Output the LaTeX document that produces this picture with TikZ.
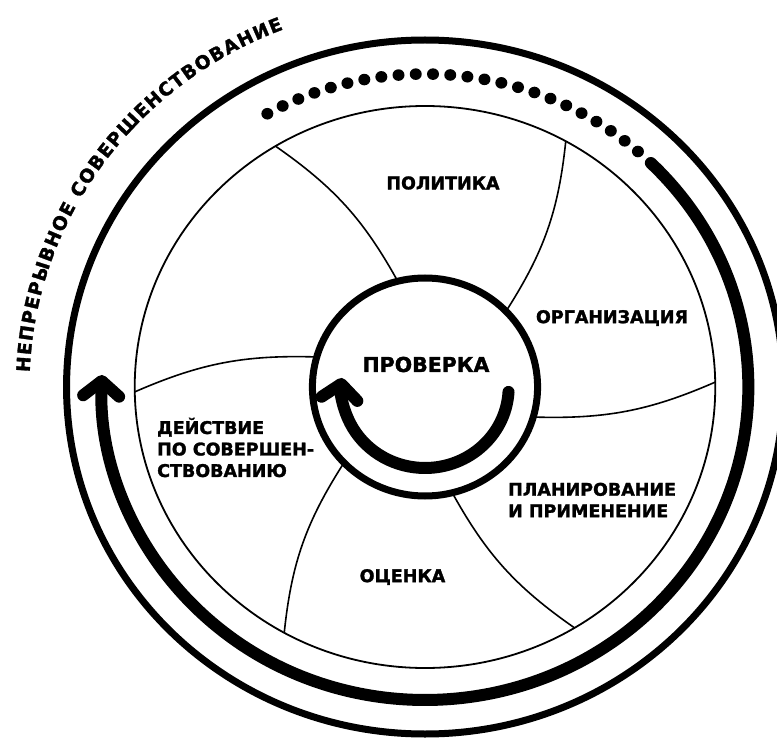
\documentclass[tikz,border=0pt]{standalone}
\usepackage{fontspec}
\setmainfont{DejaVu Sans}[BoldFeatures={FakeBold=1.6}]
\usepackage{tikz}
\usetikzlibrary{arrows.meta, decorations.text, positioning}

\begin{document}
\begin{tikzpicture}[x=1pt, y=1pt,
  ring/.style={line width=7pt},
  midring/.style={line width=1.8pt},
  spoke/.style={line width=1.6pt},
  flow/.style={line width=12pt, line cap=round, -{Straight Barb[length=15pt, width=36pt, round]}},
  lbl/.style={font=\bfseries\fontsize{17.5}{21.5}\selectfont, align=left, inner sep=0pt},
  ]
  \clip (-425,-350) rectangle (352,387);
  \fill[white] (-425,-350) rectangle (352,387);
  \begin{scope}[xscale=1.033]
    \draw[ring] (0,0) circle[radius=347];
    \draw[midring] (0,0) circle[radius=281];
    \draw[ring] (0,0) circle[radius=109];
    \foreach \a [count=\i] in {104,44,-16,-76,-136,164} {
      \coordinate (in\i) at (\a:109);
      \coordinate (out\i) at (\a+17:281);
      \draw[spoke] (out\i) to[bend left=13] (in\i);
    }
    \foreach \k in {0,...,23}
      \fill (48.8+\k*3.06:313) circle[radius=5.8];
    \coordinate (bigstart) at (45.7:313);
    \draw[flow] (bigstart) arc[start angle=45.7, end angle=-182.2, radius=313];
    \coordinate (smallstart) at (-3.5:81);
    \draw[flow] (smallstart) arc[start angle=-3.5, end angle=-186.4, radius=81];
  \end{scope}

  \node[lbl] (policy) at (18,204) {ПОЛИТИКА};
  \node[lbl] (organize) at (187,69) {ОРГАНИЗАЦИЯ};
  \node[lbl, font=\bfseries\fontsize{20.5}{24}\selectfont] (check) at (1,22.5) {ПРОВЕРКА};
  \node[lbl, anchor=west] (plan) at (83,-113) {ПЛАНИРОВАНИЕ\\И ПРИМЕНЕНИЕ};
  \node[lbl] (assess) at (-22.5,-190) {ОЦЕНКА};
  \node[lbl, anchor=west] (act) at (-268,-60.5) {ДЕЙСТВИЕ\\ПО СОВЕРШЕН-\\СТВОВАНИЮ};

  \path[decorate, decoration={text along path, text align=fit to path,
      text={|\bfseries\fontsize{18.5}{20}\selectfont|НЕПРЕРЫВНОЕ СОВЕРШЕНСТВОВАНИЕ}}]
    (177.8:395.6 and 383) arc[start angle=177.8, end angle=111, x radius=395.6, y radius=383];
\end{tikzpicture}
\end{document}
